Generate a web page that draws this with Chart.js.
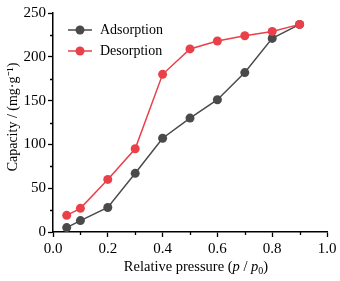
<!DOCTYPE html>
<html>
<head>
<meta charset="utf-8">
<script src="https://cdn.jsdelivr.net/npm/chart.js@4"></script>
<style>
  html, body { margin: 0; padding: 0; background: #fff; }
  #wrap { width: 340px; height: 281px; }
</style>
</head>
<body>
<div id="wrap"><canvas id="myChart" width="340" height="281"></canvas></div>
<script>
let pressure = [0.05, 0.1, 0.2, 0.3, 0.4, 0.5, 0.6, 0.7, 0.8, 0.9];
let adsorption = [5, 13, 28, 67, 107, 130, 151, 182, 221, 237];
let desorption = [19, 27, 60, 95, 180, 209, 218, 224, 229, 237];
let seriesNames = ['Adsorption', 'Desorption'];
let yTitleText = 'Capacity / (mg\u00b7g\u207b\u00b9)';

const GRAY = '#4a4a4a';
const RED = '#ea4049';
const SERIF = '"Liberation Serif", "Times New Roman", serif';

function toPoints(values) {
    return pressure.map((p, i) => ({ x: p, y: values[i] }));
}

// short minor ticks between the labelled ones
const minorTicks = {
    id: 'minorTicks',
    afterDraw(chart) {
        const ctx = chart.ctx, xs = chart.scales.x, ys = chart.scales.y;
        const area = chart.chartArea;
        ctx.save();
        ctx.strokeStyle = '#000';
        ctx.lineWidth = 1.3;
        ctx.beginPath();
        for (let v = 25; v < 250; v += 50) {
            const y = Math.round(ys.getPixelForValue(v)) + 0.5;
            ctx.moveTo(area.left, y);
            ctx.lineTo(area.left - 3, y);
        }
        for (let v = 0.1; v < 1; v += 0.2) {
            const x = Math.round(xs.getPixelForValue(v)) + 0.5;
            ctx.moveTo(x, area.bottom);
            ctx.lineTo(x, area.bottom + 3);
        }
        ctx.stroke();
        ctx.restore();
    }
};

// axis titles; x one has italic p and subscript 0
const axisTitles = {
    id: 'axisTitles',
    afterDraw(chart) {
        const ctx = chart.ctx, area = chart.chartArea;
        const parts = [
            ['Relative pressure (', '14.5px ' + SERIF, 0],
            ['p', 'italic 14.5px ' + SERIF, 0],
            [' / ', '14.5px ' + SERIF, 0],
            ['p', 'italic 14.5px ' + SERIF, 0],
            ['0', '10px ' + SERIF, 3],
            [')', '14.5px ' + SERIF, 0]
        ];
        ctx.save();
        ctx.fillStyle = '#000';
        ctx.textBaseline = 'alphabetic';
        let total = 0;
        parts.forEach(p => { ctx.font = p[1]; total += ctx.measureText(p[0]).width; });
        let x = 196 - total / 2;
        parts.forEach(p => {
            ctx.font = p[1];
            ctx.fillText(p[0], x, 271 + p[2]);
            x += ctx.measureText(p[0]).width;
        });

        ctx.translate(13, 117);
        ctx.rotate(-Math.PI / 2);
        ctx.font = '14px ' + SERIF;
        ctx.textAlign = 'center';
        ctx.textBaseline = 'middle';
        ctx.fillText(yTitleText, 0, 0);
        ctx.restore();
    }
};

// legend inside the plot: line through a dot, then the name
const insideLegend = {
    id: 'insideLegend',
    afterDraw(chart) {
        const ctx = chart.ctx, area = chart.chartArea;
        ctx.save();
        chart.data.datasets.forEach((ds, i) => {
            const y = area.top + 17 + i * 21;
            const x0 = area.left + 15;
            ctx.strokeStyle = ds.borderColor;
            ctx.lineWidth = 1.5;
            ctx.beginPath();
            ctx.moveTo(x0, y);
            ctx.lineTo(x0 + 24, y);
            ctx.stroke();
            ctx.fillStyle = ds.pointBackgroundColor;
            ctx.beginPath();
            ctx.arc(x0 + 12, y, 4.5, 0, Math.PI * 2);
            ctx.fill();
            ctx.fillStyle = '#000';
            ctx.font = '14px ' + SERIF;
            ctx.textBaseline = 'middle';
            ctx.fillText(ds.label, x0 + 32, y);
        });
        ctx.restore();
    }
};

let chartElement = document.getElementById('myChart').getContext('2d');

let myChart = new Chart(chartElement, {
    type: 'line',
    data: {
        datasets: [{
            label: seriesNames[0],
            data: toPoints(adsorption),
            borderColor: GRAY,
            backgroundColor: GRAY,
            pointBackgroundColor: GRAY,
            pointBorderWidth: 0,
            pointRadius: 4.5,
            borderWidth: 1.5,
            order: 1
        }, {
            label: seriesNames[1],
            data: toPoints(desorption),
            borderColor: RED,
            backgroundColor: RED,
            pointBackgroundColor: RED,
            pointBorderWidth: 0,
            pointRadius: 4.5,
            borderWidth: 1.5,
            order: 0
        }]
    },
    options: {
        responsive: false,
        animation: false,
        layout: { padding: { top: 13, right: 13, left: 0, bottom: 0 } },
        plugins: {
            legend: { display: false },
            tooltip: { enabled: false }
        },
        scales: {
            x: {
                type: 'linear',
                min: 0,
                max: 1,
                afterFit(scale) { scale.height = 49; },
                ticks: {
                    stepSize: 0.2,
                    color: '#000',
                    padding: 3,
                    font: { family: SERIF, size: 15 },
                    callback: v => v.toFixed(1)
                },
                grid: { drawOnChartArea: false, tickLength: 5, tickColor: '#000', tickWidth: 1.3 },
                border: { color: '#000', width: 1.5 }
            },
            y: {
                min: 0,
                max: 250,
                afterFit(scale) { scale.width = 53; },
                ticks: {
                    stepSize: 50,
                    color: '#000',
                    padding: 2,
                    font: { family: SERIF, size: 15 }
                },
                grid: { drawOnChartArea: false, tickLength: 5, tickColor: '#000', tickWidth: 1.3 },
                border: { color: '#000', width: 1.5 }
            }
        }
    },
    plugins: [minorTicks, axisTitles, insideLegend]
});
</script>
</body>
</html>
